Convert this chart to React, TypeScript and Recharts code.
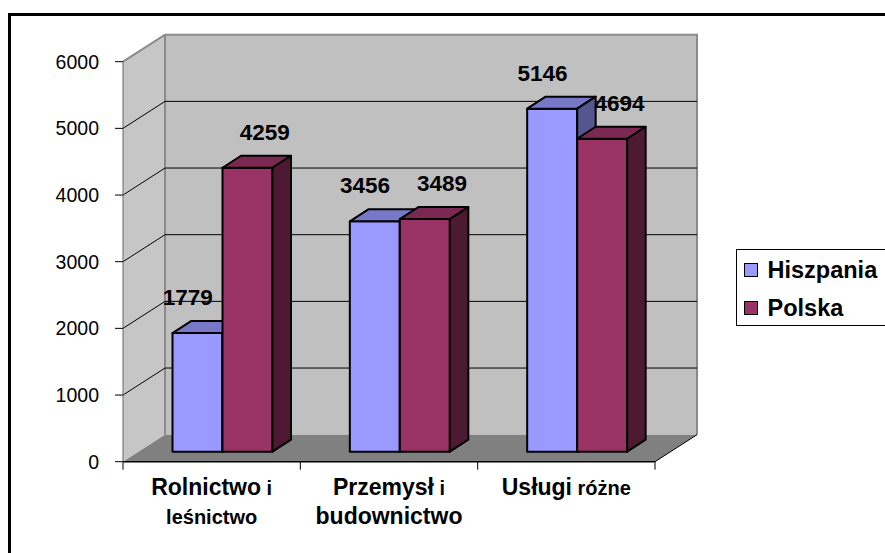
import {
  BarChart,
  Bar,
  XAxis,
  YAxis,
  CartesianGrid,
  ReferenceArea,
  Legend,
  LabelList,
} from "recharts";

const categories = ["Rolnictwo i leśnictwo", "Przemysł i budownictwo", "Usługi różne"];
const hiszpania = [1779, 3456, 5146];
const polska = [4259, 3489, 4694];
const yTicks = [0, 1000, 2000, 3000, 4000, 5000, 6000];
const gridValues = [1000, 2000, 3000, 4000, 5000];

// how each category label is broken into lines (big / small words as in the original)
const categoryLines: { t: string; small?: boolean }[][][] = [
  [[{ t: "Rolnictwo" }, { t: " i", small: true }], [{ t: "leśnictwo", small: true }]],
  [[{ t: "Przemysł" }, { t: " i", small: true }], [{ t: "budownictwo" }]],
  [[{ t: "Usługi" }, { t: " różne", small: true }]],
];

const data = categories.map((name, i) => ({
  name,
  hiszpania: hiszpania[i],
  polska: polska[i],
}));

const FONT = '"Liberation Sans", Arial, sans-serif';

// fake 3D: depth of the walls and of the bars
const WALL_DX = 42;
const WALL_DY = -27;
const BAR_OX = 10.5;
const BAR_OY = -10;
const BAR_DX = 18.5;
const BAR_DY = -12;

const HISZ = { front: "#9999FF", top: "#7878C8", side: "#55558F" };
const POL = { front: "#993366", top: "#7A2952", side: "#4D1933" };

function Walls(props: any) {
  const { x, y, width: w, height: h } = props;
  const bx = x + WALL_DX;
  const by = y + WALL_DY;
  return (
    <g>
      <polygon points={`${x},${y} ${bx},${by} ${bx},${by + h} ${x},${y + h}`} fill="#c6c6c6" />
      <rect x={bx} y={by} width={w} height={h} fill="#c0c0c0" />
      <polygon
        points={`${x},${y + h} ${x + w},${y + h} ${bx + w},${by + h} ${bx},${by + h}`}
        fill="#808080"
      />
      <polyline
        points={`${x},${y} ${bx},${by} ${bx + w},${by} ${bx + w},${by + h}`}
        fill="none"
        stroke="#8a8a8a"
        strokeWidth={2}
      />
      <line x1={bx} y1={by} x2={bx} y2={by + h} stroke="#8a8a8a" strokeWidth={2} />
      <line x1={x + w} y1={y + h} x2={bx + w} y2={by + h} stroke="#000" strokeWidth={1} />
    </g>
  );
}

function gridLine(p: any) {
  const { x1, y1, x2 } = p;
  return (
    <g key={p.key}>
      <line x1={x1} y1={y1} x2={x1 + WALL_DX} y2={y1 + WALL_DY} stroke="#000" strokeWidth={1} />
      <line
        x1={x1 + WALL_DX}
        y1={y1 + WALL_DY}
        x2={x2 + WALL_DX}
        y2={y1 + WALL_DY}
        stroke="#000"
        strokeWidth={1}
      />
    </g>
  );
}

function Box3D(props: any) {
  const { x, y, width, height, colors } = props;
  if (width == null || height == null) return null;
  const X = x + BAR_OX;
  const Y = y + BAR_OY;
  const stroke = { stroke: "#000", strokeWidth: 2, strokeLinejoin: "round" as const };
  return (
    <g>
      <rect x={X} y={Y} width={width} height={height} fill={colors.front} {...stroke} />
      <polygon
        points={`${X},${Y} ${X + BAR_DX},${Y + BAR_DY} ${X + width + BAR_DX},${Y + BAR_DY} ${X + width},${Y}`}
        fill={colors.top}
        {...stroke}
      />
      <polygon
        points={`${X + width},${Y} ${X + width + BAR_DX},${Y + BAR_DY} ${X + width + BAR_DX},${Y + height + BAR_DY} ${X + width},${Y + height}`}
        fill={colors.side}
        {...stroke}
      />
    </g>
  );
}

function BarValue(props: any) {
  const box = props.viewBox && props.viewBox.width != null ? props.viewBox : props;
  const { x, y, width } = box;
  const cx = x + width / 2 + BAR_OX + BAR_DX / 2 + props.nudge;
  return (
    <text
      x={cx}
      y={y + BAR_OY - 28}
      textAnchor="middle"
      fontFamily={FONT}
      fontWeight="bold"
      fontSize={22.5}
      fill="#000"
    >
      {props.value}
    </text>
  );
}

function CategoryTick(props: any) {
  const { x, y, payload, index, visibleTicksCount } = props;
  const half = payload.offset ?? 0;
  const i = categories.indexOf(payload.value);
  const lines = categoryLines[i] ?? [[{ t: String(payload.value) }]];
  return (
    <g>
      <line x1={x - half} y1={y} x2={x - half} y2={y + 8} stroke="#000" />
      {index === visibleTicksCount - 1 && (
        <line x1={x + half} y1={y} x2={x + half} y2={y + 8} stroke="#000" />
      )}
      {lines.map((line, li) => (
        <text
          key={li}
          x={x}
          y={y + 33.3 + li * 28.5}
          textAnchor="middle"
          fontFamily={FONT}
          fontWeight="bold"
          fill="#000"
        >
          {line.map((seg, si) => (
            <tspan key={si} fontSize={seg.small ? 20 : 23}>
              {seg.t}
            </tspan>
          ))}
        </text>
      ))}
    </g>
  );
}

function LegendBox(props: any) {
  const items = props.payload ?? [];
  return (
    <div
      style={{
        border: "1.5px solid #000",
        background: "#fff",
        height: 77,
        boxSizing: "border-box",
        padding: "1px 0 0 6.5px",
        fontFamily: FONT,
        fontWeight: "bold",
        fontSize: 23.5,
        color: "#000",
      }}
    >
      {items.map((it: any) => (
        <div key={it.value} style={{ display: "flex", alignItems: "center", height: 38 }}>
          <span
            style={{
              display: "inline-block",
              width: 12,
              height: 12,
              background: it.color,
              border: "1.5px solid #000",
              marginRight: 10,
            }}
          />
          <span>{it.value}</span>
        </div>
      ))}
    </div>
  );
}

export default function App() {
  return (
    <div style={{ position: "relative", width: 885, height: 553, overflow: "hidden", background: "#fff" }}>
      <style>{"body{margin:0}"}</style>
      <div
        style={{
          position: "absolute",
          left: 8,
          top: 13,
          width: 1000,
          height: 1000,
          border: "3px solid #000",
        }}
      />
      <div style={{ position: "absolute", left: 0, top: 0 }}>
        <BarChart
          width={885}
          height={553}
          data={data}
          barGap={0}
          margin={{ top: 61.7, right: 230, bottom: 1.3, left: 63 }}
        >
          <ReferenceArea y1={0} y2={6000} zIndex={-200} shape={Walls} />
          <CartesianGrid
            vertical={false}
            horizontalValues={gridValues}
            horizontal={gridLine}
            zIndex={-100}
          />
          <XAxis
            dataKey="name"
            height={90}
            tickSize={0}
            tickMargin={0}
            tickLine={false}
            interval={0}
            axisLine={{ stroke: "#000", strokeWidth: 1.5 }}
            tick={(p: any) => <CategoryTick {...p} />}
          />
          <YAxis
            domain={[0, 6000]}
            ticks={yTicks}
            interval={0}
            width={60}
            tickSize={8}
            tickMargin={16}
            axisLine={{ stroke: "#666" }}
            tickLine={{ stroke: "#000" }}
            tick={{ fill: "#000", fontSize: 19.5, fontFamily: FONT }}
          />
          <Legend
            layout="horizontal"
            verticalAlign="middle"
            align="center"
            wrapperStyle={{ left: 736, top: 249, width: 160 }}
            content={(p: any) => <LegendBox {...p} />}
          />
          <Bar
            dataKey="hiszpania"
            name="Hiszpania"
            fill={HISZ.front}
            barSize={50}
            isAnimationActive={false}
            shape={(p: any) => <Box3D {...p} colors={HISZ} />}
          >
            <LabelList dataKey="hiszpania" content={(p: any) => <BarValue {...p} nudge={-19} />} />
          </Bar>
          <Bar
            dataKey="polska"
            name="Polska"
            fill={POL.front}
            barSize={50}
            isAnimationActive={false}
            shape={(p: any) => <Box3D {...p} colors={POL} />}
          >
            <LabelList dataKey="polska" content={(p: any) => <BarValue {...p} nudge={8} />} />
          </Bar>
        </BarChart>
      </div>
    </div>
  );
}
